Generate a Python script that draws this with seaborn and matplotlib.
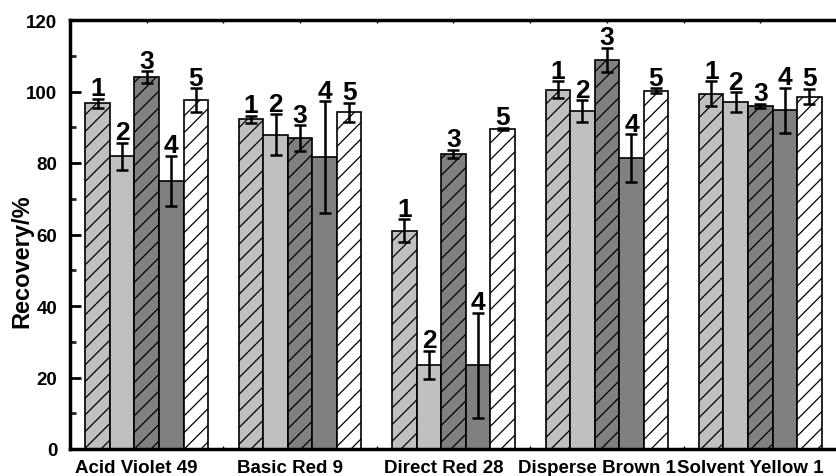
import numpy as np
import pandas as pd
import matplotlib
matplotlib.use("Agg")
import matplotlib.pyplot as plt
from matplotlib.ticker import MultipleLocator
from matplotlib.transforms import ScaledTranslation, blended_transform_factory
import seaborn as sns

# Recovery (%) of five dyes under five conditions, with standard deviations
dyes = ["Acid Violet 49", "Basic Red 9", "Direct Red 28", "Disperse Brown 1", "Solvent Yellow 1"]
conditions = ["1", "2", "3", "4", "5"]
recovery = {
    "1": [96.7, 92.2, 61.1, 100.5, 99.4],
    "2": [81.9, 87.9, 23.6, 94.6, 97.1],
    "3": [104.1, 86.9, 82.6, 108.8, 96.0],
    "4": [75.0, 81.7, 23.4, 81.4, 94.8],
    "5": [97.6, 94.2, 89.5, 100.2, 98.6],
}
std_dev = {
    "1": [1.3, 1.0, 3.2, 2.3, 3.5],
    "2": [3.8, 5.8, 3.9, 3.0, 2.7],
    "3": [1.6, 3.6, 1.1, 3.4, 0.6],
    "4": [7.0, 15.6, 14.7, 6.6, 6.3],
    "5": [3.3, 2.6, 0.4, 0.7, 2.2],
}

face_colors = ["#c0c0c0", "#c0c0c0", "#808080", "#808080", "#ffffff"]
hatches = ["//", "", "//", "", "//"]

rows = []
for c in conditions:
    for d, v in zip(dyes, recovery[c]):
        rows.append({"dye": d, "condition": c, "recovery": v})
df = pd.DataFrame(rows)

sns.set_theme(style="white")
plt.rcParams["font.family"] = ["Liberation Sans", "DejaVu Sans"]
plt.rcParams["font.weight"] = "bold"
plt.rcParams["hatch.linewidth"] = 0.9
plt.rcParams["hatch.color"] = "black"

fig = plt.figure(figsize=(8.37, 4.77), dpi=100)
ax = fig.add_axes([70 / 837, 27 / 477, 1 - 70 / 837, 429 / 477])

sns.barplot(
    data=df, x="dye", y="recovery", hue="condition", order=dyes,
    hue_order=conditions, palette=face_colors, errorbar=None,
    width=0.8, saturation=1, edgecolor="black", linewidth=1.2,
    legend=False, ax=ax,
)

for i, (cont, c) in enumerate(zip(ax.containers, conditions)):
    xs, ys = [], []
    for bar in cont:
        bar.set_hatch(hatches[i])
        bar.set_facecolor(face_colors[i])
        bar.set_edgecolor("black")
        xs.append(bar.get_x() + bar.get_width() / 2)
        ys.append(bar.get_height())
    errs = std_dev[c]
    ax.errorbar(xs, ys, yerr=errs, fmt="none", ecolor="black",
                elinewidth=1.8, capsize=4, capthick=1.8, zorder=5)
    for x, y, e in zip(xs, ys, errs):
        ax.annotate(c, (x, y + e), xytext=(0, 2.5), textcoords="offset points",
                    ha="center", va="baseline", fontsize=19, fontweight="bold",
                    color="black", zorder=6)

ax.set_ylim(0, 120)
ax.set_xlim(-0.5, 4.445)
ax.yaxis.set_major_locator(MultipleLocator(20))
ax.yaxis.set_minor_locator(MultipleLocator(10))
ax.set_xticks(range(len(dyes)))
ax.set_xticks(np.arange(-0.5, 5, 1), minor=True)
ax.set_xticklabels([])

# Category names sit slightly left of the group centres
name_tf = blended_transform_factory(ax.transData, ax.transAxes) + \
    ScaledTranslation(-0.10, -0.235, fig.dpi_scale_trans)
for i, name in enumerate(dyes):
    ax.text(i, 0, name, transform=name_tf, ha="center", va="baseline",
            fontsize=13.5, fontweight="bold", color="black", clip_on=False)

for lbl in ax.get_yticklabels():
    lbl.set_fontweight("bold")
ax.tick_params(axis="y", which="major", direction="in", length=8, width=2,
               labelsize=13.5, pad=9, left=True, colors="black")
ax.tick_params(axis="y", which="minor", direction="in", length=4, width=2, left=True)
ax.tick_params(axis="x", which="both", direction="in", length=2, width=1,
               bottom=True, top=True, colors="black")

ax.set_xlabel("")
ax.set_ylabel("")
fig.text(22 / 837, 1 - 261 / 477, "Recovery/%", rotation=90, ha="center",
         va="center", fontsize=17, fontweight="bold", color="black")

for side in ["left", "top", "bottom"]:
    ax.spines[side].set_visible(True)
    ax.spines[side].set_color("black")
    ax.spines[side].set_linewidth(2.5)
ax.spines["right"].set_visible(False)

fig.savefig("out.png", dpi=100)
